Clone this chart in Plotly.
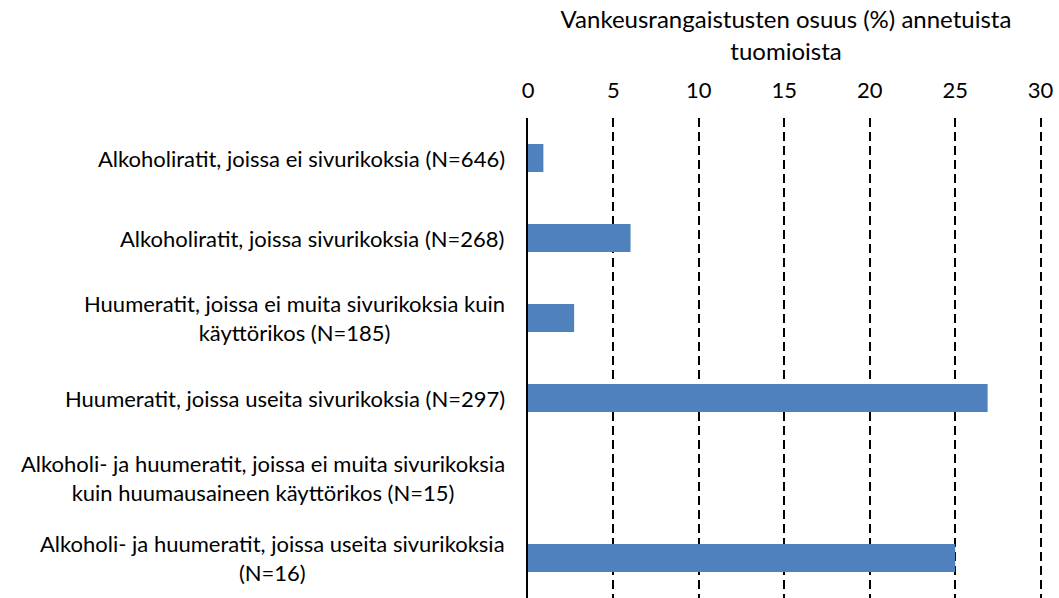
import plotly.graph_objects as go

categories = [
    "Alkoholiratit, joissa ei sivurikoksia (N=646)",
    "Alkoholiratit, joissa sivurikoksia (N=268)",
    "Huumeratit, joissa ei muita sivurikoksia kuin<br>käyttörikos (N=185)",
    "Huumeratit, joissa useita sivurikoksia (N=297)",
    "Alkoholi- ja huumeratit, joissa ei muita sivurikoksia<br>kuin huumausaineen käyttörikos (N=15)",
    "Alkoholi- ja huumeratit, joissa useita sivurikoksia<br>(N=16)",
]
values = [0.9, 6.0, 2.7, 26.9, 0.0, 25.0]
x_ticks = [0, 5, 10, 15, 20, 25, 30]
x_title = "Vankeusrangaistusten osuus (%) annetuista<br>tuomioista"

FONT = "Lato, Carlito, Calibri, sans-serif"
positions = list(range(len(categories)))

fig = go.Figure()
fig.add_trace(go.Bar(
    x=values,
    y=positions,
    orientation="h",
    width=0.35,
    marker=dict(color="#4F81BD", line=dict(width=0)),
    showlegend=False,
    hoverinfo="skip",
))

for pos, label in zip(positions, categories):
    fig.add_annotation(
        x=0, xref="paper", xshift=-21,
        y=pos, yref="y",
        text=label, showarrow=False,
        xanchor="right", yanchor="middle", align="center",
        font=dict(family=FONT, size=22, color="#000000"),
    )

fig.update_layout(
    width=1059, height=598,
    margin=dict(l=528, r=15, t=118, b=0),
    paper_bgcolor="white", plot_bgcolor="white",
    font=dict(family=FONT, color="#000000"),
)
fig.update_xaxes(
    side="top",
    range=[0, 30.2],
    tickvals=x_ticks,
    ticktext=[str(t) for t in x_ticks],
    tickfont=dict(family=FONT, size=22, color="#000000"),
    ticklabelstandoff=15,
    showgrid=True, gridcolor="#000000", gridwidth=1.5, griddash="9px,5px",
    zeroline=False, showline=False, ticks="",
    title=dict(text=x_title, font=dict(family=FONT, size=24, color="#000000"), standoff=8),
    fixedrange=True,
)
fig.update_yaxes(
    range=[5.5, -0.5],
    tickvals=positions,
    showticklabels=False,
    showgrid=False, zeroline=False,
    showline=True, linecolor="#000000", linewidth=2,
    ticks="",
    fixedrange=True,
)

fig.write_html(
    "out.html",
    config={"displayModeBar": False},
    post_script="document.body.style.margin='0';document.body.style.overflow='hidden';",
)
